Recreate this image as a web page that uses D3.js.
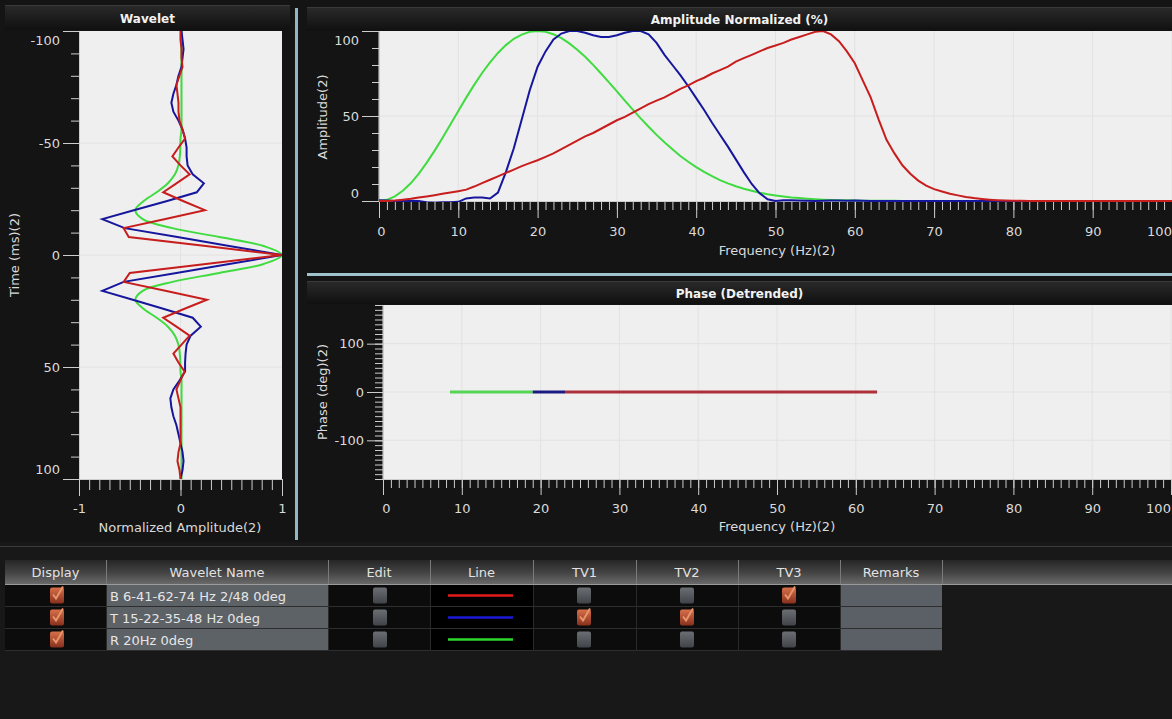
<!DOCTYPE html>
<html>
<head>
<meta charset="utf-8">
<script src="https://cdn.jsdelivr.net/npm/d3@7"></script>
<style>
  html, body { margin: 0; padding: 0; background: #181818; }
  svg { display: block; font-family: "DejaVu Sans", sans-serif; }
</style>
</head>
<body>
<div id="chart"></div>
<script>
// ---- wavelet (time domain), 4 ms samples ----
var waveTime = [-100,-96,-92,-88,-84,-80,-76,-72,-68,-64,-60,-56,-52,-48,-44,-40,-36,-32,-28,-24,-20,-16,-12,-8,-4,
                0,4,8,12,16,20,24,28,32,36,40,44,48,52,56,60,64,68,72,76,80,84,88,92,96,100];
var waveRed = [0,0,0.01,0.01,0.02,-0.01,-0.04,-0.03,-0.02,-0.02,-0.01,0.02,0.045,-0.02,-0.08,0,0.09,-0.04,-0.17,0.03,0.24,-0.16,-0.56,-0.51,0.25,
               1.0,0.25,-0.5,-0.56,-0.15,0.26,0.04,-0.17,-0.04,0.09,0.01,-0.07,-0.02,0.04,0,-0.04,-0.02,0,0,0,0,0,-0.02,-0.03,-0.01,0];
var waveBlue = [0.01,0.02,0.03,0.02,0.01,-0.02,-0.04,-0.07,-0.09,-0.07,-0.02,0.02,0.045,0.06,0.06,0.07,0.12,0.23,0.16,-0.14,-0.46,-0.77,-0.55,-0.03,0.48,
                1.0,0.48,-0.04,-0.56,-0.77,-0.47,-0.17,0.12,0.2,0.1,0.06,0.05,0.045,0.045,-0.01,-0.07,-0.1,-0.09,-0.07,-0.04,-0.02,0,0.02,0.03,0.02,0];
var waveGreen = [0.01,0.01,0.01,0.01,0.01,0.01,0.01,0.01,0.01,0.01,0.01,0.01,0,-0.002,-0.007,-0.021,-0.055,-0.124,-0.235,-0.365,-0.445,-0.372,-0.078,0.384,0.82,
                 1.0,0.82,0.384,-0.078,-0.372,-0.445,-0.365,-0.235,-0.124,-0.055,-0.021,-0.007,-0.002,0,0.01,0.01,0.01,0.01,0.01,0.01,0.01,0.01,0.01,0.01,0.01,0.01];

// ---- amplitude spectra (%), 1 Hz steps ----
var freqHz = [0,1,2,3,4,5,6,7,8,9,10,11,12,13,14,15,16,17,18,19,20,21,22,23,24,25,26,27,28,29,30,31,32,33,34,35,36,37,38,39,
              40,41,42,43,44,45,46,47,48,49,50,51,52,53,54,55,56,57,58,59,60,61,62,63,64,65,66,67,68,69,70,71,72,73,74,75,76,77,78,79,
              80,81,82,83,84,85,86,87,88,89,90,91,92,93,94,95,96,97,98,99,100];
var ampGreen = [0,0.7,2.7,6.0,10.4,16.0,22.4,29.5,37.1,45.0, 52.9,60.8,68.3,75.3,81.6,87.1,91.7,95.4,97.9,99.5,
                100,99.5,98.1,95.8,92.7,89.0,84.8,80.1,75.0,69.8, 64.5,59.1,53.8,48.6,43.7,38.9,34.5,30.4,26.5,23.1,
                19.9,17.1,14.6,12.3,10.4,8.7,7.2,6.0,4.9,4.0, 3.3,2.7,2.1,1.7,1.3,1.0,0.8,0.6,0.5,0.4,
                0.3,0.2,0.2,0.1,0.1,0.1,0,0,0,0, 0,0,0,0,0,0,0,0,0,0, 0,0,0,0,0,0,0,0,0,0, 0,0,0,0,0,0,0,0,0,0, 0];
var ampBlue = [0.5,0.3,0,0,0.2,0,-0.8,-1.0,-0.8,-0.8, -0.5,1.5,2.0,2.0,1.5,5,17,31,48,65,
               79,88,95,98.5,100,100,99,97.5,96.5,96.5, 97.5,99,100,100,98,93,86,80,74,67.5,
               60.5,53.5,46,39,32,24.5,17,10,4.5,1, 0,0.4,0.5,0.3,0.2,0,0.2,0.3,0.3,0.2,
               0.3,0.1,0,0,0,0,0,0,0,0, 0,0,0,0,0,0,0,0,0,0, 0,0,0,0,0,0,0,0,0,0, 0,0,0,0,0,0,0,0,0,0, 0];
var ampRed = [0,0,0.3,0.8,1.3,2.0,2.7,3.4,4.2,5.0, 5.8,6.7,8.5,10.5,12.5,14.5,16.5,18.5,20.5,22.3,
              24,26,28,30.5,33,35.5,38,40,42.5,45, 47.5,49.5,52,54.5,57,59,61,63.5,66,68,
              70.5,72.5,75,77,79,82,84,86,88,90, 91.5,93,95,96.5,98,99.5,100,98,94,88,
              81,71,61,48,36,28,21,16,12,9, 7,5.6,4.3,3.3,2.4,1.7,1.2,0.8,0.5,0.3,
              0.2,0.1,0,0,0,0,0,0,0,0, 0,0,0,0,0,0,0,0,0,0, 0];

// ---- detrended phase (deg) ----
var phaseGreenHz = [8.5, 19], phaseGreenDeg = [0, 0];
var phaseBlueHz = [19, 23.1], phaseBlueDeg = [0, 0];
var phaseRedHz = [23.1, 62.7], phaseRedDeg = [0, 0];

// ---- ticks ----
var waveTimeTicks = [-100, -50, 0, 50, 100];
var waveAmpTicks = [-1, 0, 1];
var freqTicks = [0, 10, 20, 30, 40, 50, 60, 70, 80, 90, 100];
var ampTicks = [0, 50, 100];
var phaseTicks = [-100, 0, 100];

// ---- table ----
var tableHeaders = ["Display", "Wavelet Name", "Edit", "Line", "TV1", "TV2", "TV3", "Remarks"];
var wavNames = ["B 6-41-62-74 Hz 2/48 0deg", "T 15-22-35-48 Hz 0deg", "R 20Hz 0deg"];
var showDisplay = [1, 1, 1];
var showEdit = [0, 0, 0];
var showTV1 = [0, 1, 0];
var showTV2 = [0, 1, 0];
var showTV3 = [1, 0, 0];

var W = 1172, H = 719;
var RED = "#c81d1d", BLUE = "#16169c", GREEN = "#3fdb3f";
var axisColor = "#cdcdcd", textColor = "#dadada", plotBg = "#efefef", gridColor = "#e2e2e2";

var svg = d3.select("#chart").append("svg").attr("width", W).attr("height", H);
var defs = svg.append("defs");

svg.append("rect").attr("width", W).attr("height", H).attr("fill", "#181818");
svg.append("rect").attr("width", W).attr("height", 542).attr("fill", "#141414");

var tg = defs.append("linearGradient").attr("id", "titleGrad").attr("x1", 0).attr("x2", 0).attr("y1", 0).attr("y2", 1);
tg.append("stop").attr("offset", "0%").attr("stop-color", "#2a2a2a");
tg.append("stop").attr("offset", "100%").attr("stop-color", "#101010");

function titleBar(x0, x1, y0, y1, label) {
  svg.append("rect").attr("x", x0).attr("y", y0).attr("width", x1 - x0).attr("height", y1 - y0).attr("fill", "url(#titleGrad)");
  svg.append("line").attr("x1", x0).attr("x2", x1).attr("y1", y0 + 0.5).attr("y2", y0 + 0.5).attr("stroke", "#3a3a3a");
  svg.append("text").attr("x", (x0 + x1) / 2).attr("y", (y0 + y1) / 2 + 5)
    .attr("text-anchor", "middle").attr("fill", "#f2f2f2")
    .style("font-weight", "bold").style("font-size", "12px").text(label);
}

function styleAxis(g) {
  g.selectAll(".domain").attr("stroke", axisColor);
  g.selectAll(".tick line").attr("stroke", axisColor);
  g.selectAll(".tick text").attr("fill", textColor).style("font-size", "13px")
    .style("font-family", "'DejaVu Sans', sans-serif");
}

function addAxis(maker, scale, majors, minors, majorLen, minorLen, tx, ty) {
  var gMinor = svg.append("g").attr("transform", "translate(" + tx + "," + ty + ")")
    .call(maker(scale).tickValues(minors).tickSize(minorLen).tickSizeOuter(0).tickFormat(""));
  gMinor.select(".domain").remove();
  styleAxis(gMinor);
  var gMajor = svg.append("g").attr("transform", "translate(" + tx + "," + ty + ")")
    .call(maker(scale).tickValues(majors).tickSize(majorLen).tickSizeOuter(0).tickPadding(3)
      .tickFormat(function(d) { return String(d); }));
  styleAxis(gMajor);
  return gMajor;
}

function plotArea(id, x0, x1, y0, y1) {
  svg.append("rect").attr("x", x0).attr("y", y0).attr("width", x1 - x0).attr("height", y1 - y0).attr("fill", plotBg);
  defs.append("clipPath").attr("id", id).append("rect")
    .attr("x", x0).attr("y", y0).attr("width", x1 - x0).attr("height", y1 - y0 + 1);
}

function gridLines(xs, ys, xVals, yVals) {
  var r = [xs.range(), ys.range()];
  var g = svg.append("g");
  g.selectAll(".gx").data(xVals).enter().append("line")
    .attr("x1", function(d) { return xs(d); }).attr("x2", function(d) { return xs(d); })
    .attr("y1", d3.min(r[1])).attr("y2", d3.max(r[1])).attr("stroke", gridColor);
  g.selectAll(".gy").data(yVals).enter().append("line")
    .attr("y1", function(d) { return ys(d); }).attr("y2", function(d) { return ys(d); })
    .attr("x1", d3.min(r[0])).attr("x2", d3.max(r[0])).attr("stroke", gridColor);
}

// ================= Wavelet panel =================
titleBar(5, 290, 5, 30, "Wavelet");
var wx = d3.scaleLinear().domain([-1, 1]).range([79, 282]);
var wy = d3.scaleLinear().domain([-100, 100]).range([31, 479]);
plotArea("clipW", 79, 282, 31, 479);
gridLines(wx, wy, [0], [-50, 0, 50]);

var gwl = addAxis(d3.axisLeft, wy, waveTimeTicks, d3.range(-100, 101, 10), 16, 8, 79, 0);
gwl.selectAll(".tick text").attr("dy", function(d) { return d === -100 ? "1.05em" : d === 100 ? "-0.4em" : "0.32em"; });
addAxis(d3.axisBottom, wx, waveAmpTicks, d3.range(-10, 11).map(function(k) { return k / 10; }), 17, 11, 0, 479)
  .selectAll(".tick text").attr("dy", "1.05em");

var waveLine = function(vals, curve) {
  return d3.line().curve(curve || d3.curveLinear)
    .x(function(d, i) { return wx(vals[i]); })
    .y(function(d) { return wy(d); })(waveTime);
};
var gW = svg.append("g").attr("clip-path", "url(#clipW)");
gW.append("path").attr("d", waveLine(waveGreen, d3.curveCatmullRom)).attr("fill", "none").attr("stroke", GREEN).attr("stroke-width", 2);
gW.append("path").attr("d", waveLine(waveBlue)).attr("fill", "none").attr("stroke", BLUE).attr("stroke-width", 2);
gW.append("path").attr("d", waveLine(waveRed)).attr("fill", "none").attr("stroke", RED).attr("stroke-width", 2);

svg.append("text").attr("transform", "translate(19,255) rotate(-90)").attr("text-anchor", "middle")
  .attr("fill", textColor).style("font-size", "13px").text("Time (ms)(2)");
svg.append("text").attr("x", 180).attr("y", 532).attr("text-anchor", "middle")
  .attr("fill", textColor).style("font-size", "13px").text("Normalized Amplitude(2)");

// separators
svg.append("rect").attr("x", 295).attr("y", 8).attr("width", 3).attr("height", 532).attr("fill", "#8fb7c8");
svg.append("rect").attr("x", 307).attr("y", 273).attr("width", W - 307).attr("height", 3).attr("fill", "#9fc2cf");
svg.append("line").attr("x1", 0).attr("x2", W).attr("y1", 546.5).attr("y2", 546.5).attr("stroke", "#3c3c3c");

// ================= Amplitude panel =================
titleBar(307, W, 7, 31, "Amplitude Normalized (%)");
var ax = d3.scaleLinear().domain([0, 100]).range([379, 1172]);
var ay = d3.scaleLinear().domain([0, 100]).range([201, 31]);
plotArea("clipA", 379, 1172, 31, 201);
gridLines(ax, ay, freqTicks, [50]);

var gal = addAxis(d3.axisLeft, ay, ampTicks, d3.range(0, 101, 10), 17, 7, 379, 0);
gal.selectAll(".tick text").attr("dy", function(d) { return d === 100 ? "1.05em" : d === 0 ? "-0.3em" : "0.32em"; });
var gab = addAxis(d3.axisBottom, ax, freqTicks, d3.range(0, 101, 1), 17, 9, 0, 201);
gab.selectAll(".tick text").attr("dy", "1.15em").attr("dx", function(d) { return d === 100 ? -13 : d === 0 ? 2 : 0; });

var ampLine = function(vals) {
  return d3.line().x(function(d) { return ax(d); }).y(function(d, i) { return ay(vals[i]); })(freqHz);
};
var gA = svg.append("g").attr("clip-path", "url(#clipA)");
gA.append("path").attr("d", ampLine(ampGreen)).attr("fill", "none").attr("stroke", GREEN).attr("stroke-width", 2);
gA.append("path").attr("d", ampLine(ampBlue)).attr("fill", "none").attr("stroke", BLUE).attr("stroke-width", 2);
gA.append("path").attr("d", ampLine(ampRed)).attr("fill", "none").attr("stroke", RED).attr("stroke-width", 2);

svg.append("text").attr("transform", "translate(327,117) rotate(-90)").attr("text-anchor", "middle")
  .attr("fill", textColor).style("font-size", "13px").text("Amplitude(2)");
svg.append("text").attr("x", 777).attr("y", 255).attr("text-anchor", "middle")
  .attr("fill", textColor).style("font-size", "13px").text("Frequency (Hz)(2)");

// ================= Phase panel =================
titleBar(307, W, 281, 304, "Phase (Detrended)");
var px = d3.scaleLinear().domain([0, 100]).range([383, 1171]);
var py = d3.scaleLinear().domain([-180, 180]).range([479, 305]);
plotArea("clipP", 383, 1172, 305, 479);
gridLines(px, py, freqTicks, phaseTicks);

addAxis(d3.axisLeft, py, phaseTicks, d3.range(-180, 181, 10), 16, 8, 383, 0);
addAxis(d3.axisBottom, px, freqTicks, d3.range(0, 101, 1), 16, 9, 0, 479)
  .selectAll(".tick text").attr("dy", "1.15em").attr("dx", function(d) { return d === 100 ? -13 : d === 0 ? 3 : 0; });

var gP = svg.append("g").attr("clip-path", "url(#clipP)");
[[phaseGreenHz, phaseGreenDeg, "#55d455"], [phaseBlueHz, phaseBlueDeg, "#1a1a80"], [phaseRedHz, phaseRedDeg, "#ad2f3a"]]
  .forEach(function(s) {
    var line = d3.line().x(function(d) { return px(d); }).y(function(d, i) { return py(s[1][i]); });
    gP.append("path").attr("d", line(s[0])).attr("fill", "none").attr("stroke", s[2]).attr("stroke-width", 3);
  });

svg.append("text").attr("transform", "translate(327,392) rotate(-90)").attr("text-anchor", "middle")
  .attr("fill", textColor).style("font-size", "13px").text("Phase (deg)(2)");
svg.append("text").attr("x", 777).attr("y", 531).attr("text-anchor", "middle")
  .attr("fill", textColor).style("font-size", "13px").text("Frequency (Hz)(2)");

// ================= Table =================
var colEdges = [5, 106, 328, 430, 533, 636, 738, 840, 942];
var hg = defs.append("linearGradient").attr("id", "headGrad").attr("x1", 0).attr("x2", 0).attr("y1", 0).attr("y2", 1);
hg.append("stop").attr("offset", "0%").attr("stop-color", "#262626");
hg.append("stop").attr("offset", "55%").attr("stop-color", "#454545");
hg.append("stop").attr("offset", "100%").attr("stop-color", "#6a6a6a");
svg.append("rect").attr("x", 5).attr("y", 560).attr("width", W - 5).attr("height", 24).attr("fill", "url(#headGrad)");
svg.append("line").attr("x1", 5).attr("x2", W).attr("y1", 584.5).attr("y2", 584.5).attr("stroke", "#9a9a9a");

svg.selectAll(".hsep").data(colEdges.slice(1)).enter().append("line")
  .attr("x1", function(d) { return d + 0.5; }).attr("x2", function(d) { return d + 0.5; })
  .attr("y1", 560).attr("y2", 584).attr("stroke", "#7a7a7a");
svg.selectAll(".htxt").data(tableHeaders).enter().append("text")
  .attr("x", function(d, i) { return (colEdges[i] + colEdges[i + 1]) / 2; })
  .attr("y", 577).attr("text-anchor", "middle").attr("fill", "#e2e2e2").style("font-size", "13px")
  .text(function(d) { return d; });

var cbOff = defs.append("linearGradient").attr("id", "cbOff").attr("x1", 0).attr("x2", 0).attr("y1", 0).attr("y2", 1);
cbOff.append("stop").attr("offset", "0%").attr("stop-color", "#6b6f74");
cbOff.append("stop").attr("offset", "100%").attr("stop-color", "#404448");
var cbOn = defs.append("linearGradient").attr("id", "cbOn").attr("x1", 0).attr("x2", 0).attr("y1", 0).attr("y2", 1);
cbOn.append("stop").attr("offset", "0%").attr("stop-color", "#d8704a");
cbOn.append("stop").attr("offset", "100%").attr("stop-color", "#86301e");

function checkbox(cx, cy, on) {
  svg.append("rect").attr("x", cx - 7).attr("y", cy - 8).attr("width", 14).attr("height", 16).attr("rx", 2)
    .attr("fill", on ? "url(#cbOn)" : "url(#cbOff)");
  if (on) {
    svg.append("path").attr("d", "M" + (cx - 4) + "," + (cy - 1) + " L" + (cx - 1) + "," + (cy + 3) + " L" + (cx + 6) + "," + (cy - 9))
      .attr("fill", "none").attr("stroke", "#e8946a").attr("stroke-width", 2);
  }
}

var lineColors = ["#e31a1a", "#1a1ad6", "#2cd62c"];
wavNames.forEach(function(name, r) {
  var y0 = 585 + r * 22, h = 21, cy = y0 + h / 2;
  svg.append("rect").attr("x", 5).attr("y", y0).attr("width", 937).attr("height", h).attr("fill", "#0c0c0c");
  svg.append("rect").attr("x", 107).attr("y", y0).attr("width", 221).attr("height", h).attr("fill", "#5d6267");
  svg.append("rect").attr("x", 841).attr("y", y0).attr("width", 101).attr("height", h).attr("fill", "#5b6066");
  svg.append("rect").attr("x", 431).attr("y", y0).attr("width", 102).attr("height", h).attr("fill", "#000");
  svg.append("line").attr("x1", 5).attr("x2", 942).attr("y1", y0 + h + 0.5).attr("y2", y0 + h + 0.5).attr("stroke", "#2e2e2e");
  svg.append("text").attr("x", 110).attr("y", cy + 5).attr("fill", "#e6e6e6").style("font-size", "13px").text(name);
  svg.append("line").attr("x1", 448).attr("x2", 513).attr("y1", cy).attr("y2", cy)
    .attr("stroke", lineColors[r]).attr("stroke-width", 2.5);
  checkbox(57, cy, showDisplay[r]);
  checkbox(380, cy, showEdit[r]);
  checkbox(584, cy, showTV1[r]);
  checkbox(687, cy, showTV2[r]);
  checkbox(789, cy, showTV3[r]);
});
svg.selectAll(".rsep").data(colEdges.slice(1, 8)).enter().append("line")
  .attr("x1", function(d) { return d + 0.5; }).attr("x2", function(d) { return d + 0.5; })
  .attr("y1", 585).attr("y2", 651).attr("stroke", "#2a2a2a");
</script>
</body>
</html>
